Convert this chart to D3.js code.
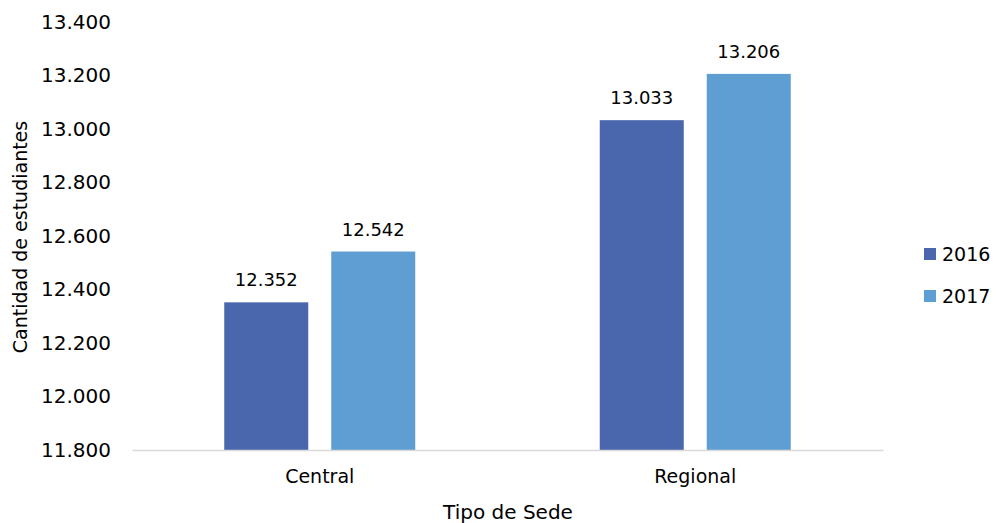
<!DOCTYPE html>
<html><head><meta charset="utf-8">
<script src="https://cdn.jsdelivr.net/npm/d3@7"></script>
<style>body{margin:0;background:#fff}svg{display:block}text{font-family:"DejaVu Sans",sans-serif;fill:#000}</style>
</head><body>
<svg id="c" width="996" height="523"></svg>
<script>
const categories = ["Central", "Regional"];
const seriesNames = ["2016", "2017"];
const values2016 = [12352, 13033];
const values2017 = [12542, 13206];
const yTicks = [11800, 12000, 12200, 12400, 12600, 12800, 13000, 13200, 13400];
const colors = ["#4A66AC", "#5F9ED2"];
const series = [values2016, values2017];

const svg = d3.select("#c");
const L = 132, R = 883, T = 22, B = 450;
const x0 = d3.scaleBand().domain(categories).range([L, R]).paddingInner(0).paddingOuter(0);
const y = d3.scaleLinear().domain([11800, 13400]).range([B, T]);
const fmt = v => d3.format(",.0f")(v).replace(/,/g, ".");

// y tick labels
const yAxis = d3.axisLeft(y).tickValues(yTicks).tickFormat(d => fmt(d)).tickSize(0).tickPadding(21);
const ga = svg.append("g").attr("transform", `translate(${L},0)`).call(yAxis);
ga.select(".domain").remove();
ga.selectAll("text").style("font-size", "20px").style("font-family", '"DejaVu Sans",sans-serif').attr("fill", "#000");

// bars
const barW = 84, gap = 23;
categories.forEach((c, i) => {
  const cx = x0(c) + x0.bandwidth() / 2;
  series.forEach((vals, s) => {
    const v = vals[i];
    const bx = cx - (barW * 2 + gap) / 2 + s * (barW + gap);
    svg.append("rect").attr("x", bx).attr("y", y(v)).attr("width", barW).attr("height", y(11800) - y(v)).attr("fill", colors[s]);
    svg.append("text").attr("x", bx + barW / 2).attr("y", y(v) - 16).attr("text-anchor", "middle").style("font-size", "18px").text(fmt(v));
  });
});

// x axis
const xAxis = d3.axisBottom(x0).tickSize(0).tickPadding(20);
const gx = svg.append("g").attr("transform", `translate(0,${B})`).call(xAxis);
gx.select(".domain").attr("stroke", "#d9d9d9").attr("stroke-width", 1.5);
gx.selectAll("text").style("font-size", "19px").style("font-family", '"DejaVu Sans",sans-serif').attr("fill", "#000");

// axis titles
svg.append("text").attr("x", 508).attr("y", 519).attr("text-anchor", "middle").style("font-size", "20px").text("Tipo de Sede");
svg.append("text").attr("transform", "translate(27,237) rotate(-90)").attr("text-anchor", "middle").style("font-size", "19px").text("Cantidad de estudiantes");

// legend
seriesNames.forEach((n, i) => {
  const ly = 254 + i * 42;
  svg.append("rect").attr("x", 924).attr("y", ly - 6).attr("width", 12).attr("height", 12).attr("fill", colors[i]);
  svg.append("text").attr("x", 942).attr("y", ly + 7).style("font-size", "19px").text(n);
});
</script>
</body></html>
